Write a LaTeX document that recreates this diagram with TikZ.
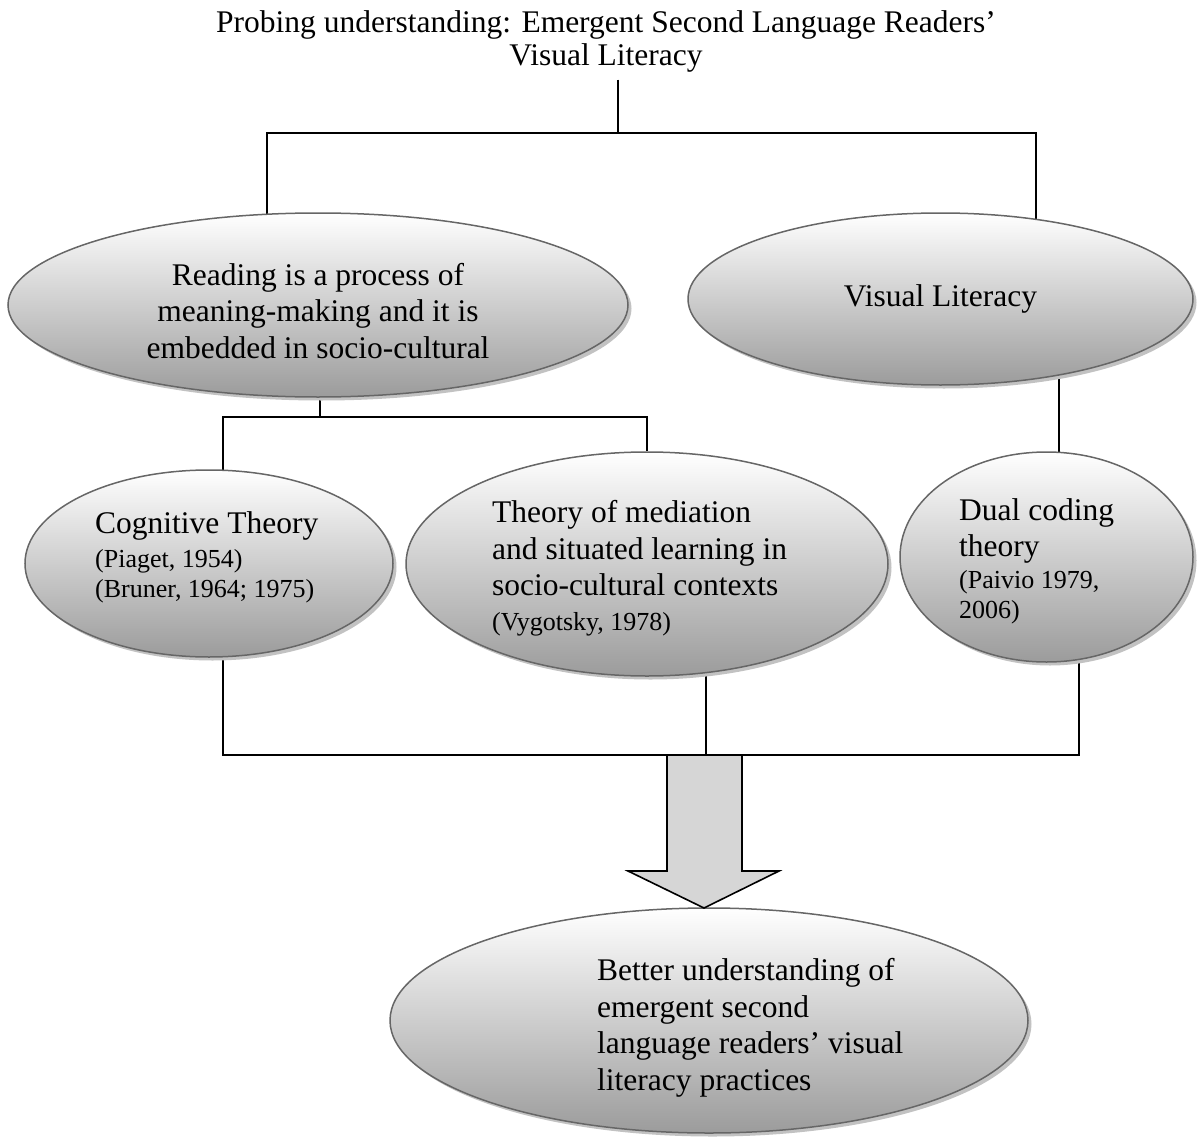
\documentclass[tikz,border=0pt]{standalone}
\usepackage{fontspec}
\setmainfont{Liberation Serif}
\usetikzlibrary{shapes.geometric, shadows, backgrounds, positioning}
\newcommand{\bodyfont}{\fontsize{31.5}{36.5}\selectfont}
\newcommand{\citefont}{\fontsize{26}{29.5}\selectfont}
\tikzset{
  bubble/.style={ellipse, draw=black!60, line width=1.5pt, top color=white, bottom color=black!39, drop shadow={shadow xshift=3.5pt, shadow yshift=-3.5pt, fill=black!24, opacity=1}, inner sep=0pt, font=\bodyfont, align=center},
  bubbletext/.style={anchor=north west, inner sep=0pt, align=left},
  link/.style={draw=black, line width=1.6pt},
  bigarrow/.style={draw=black, line width=1.6pt, fill=black!16, line join=miter},
}

\begin{document}
\begin{tikzpicture}[x=1pt, y=1pt]
\useasboundingbox (0,0) rectangle (1197,-1145);
\node[font=\fontsize{31.5}{33}\selectfont, align=center, anchor=north, inner xsep=0pt, inner ysep=7pt] (title) at (606,-3.5) {Probing understanding: Emergent Second Language Readers’\\Visual Literacy};

% ellipses
\node[bubble, minimum width=620, minimum height=184] (reading) at (318,-305) {};
\node[bubble, minimum width=505, minimum height=172] (vislit) at (940.5,-299) {Visual Literacy};
\node[bubble, minimum width=368, minimum height=187] (cog) at (209,-563.5) {};
\node[bubble, minimum width=482, minimum height=224] (med) at (647,-564) {};
\node[bubble, minimum width=293, minimum height=210] (dual) at (1046.5,-557) {};
\node[bubble, minimum width=638, minimum height=225] (better) at (709,-1020.5) {};

% texts
\node[font=\bodyfont, align=center, inner sep=0pt] (readingtext) at ([yshift=-6pt]reading.center) {Reading is a process of\\meaning-making and it is\\embedded in socio-cultural};
\node[bubbletext, font=\citefont] (cogtext) at (95,-511.5) {{\bodyfont Cognitive Theory}\\[4.5pt](Piaget, 1954)\\(Bruner, 1964; 1975)};
\node[bubbletext, font=\bodyfont] (medtext) at (492,-500.5) {Theory of mediation\\and situated learning in\\socio-cultural contexts\\[-1.5pt]{\citefont (Vygotsky, 1978)}};
\node[bubbletext, font=\citefont] (dualtext) at (959,-498.5) {{\bodyfont Dual coding}\\[6.5pt]{\bodyfont theory}\\[2.5pt](Paivio 1979,\\2006)};
\node[bubbletext, font=\bodyfont] (bettertext) at (597,-958.5) {Better understanding of\\emergent second\\language readers’ visual\\literacy practices};

% connectors
\begin{scope}[on background layer]
\coordinate (rootbus) at (618,-133);
\coordinate (midbus) at (320,-417);
\coordinate (lowbus) at (706,-755);
\draw[link] (title.south -| rootbus) -- (rootbus);
\draw[link] (reading.center -| 267,0) |- (rootbus) -| (vislit.center -| 1036,0);
\draw[link] (reading.center -| midbus) -- (midbus);
\draw[link] (cog.center -| 223,0) |- (midbus) -| (med);
\draw[link] (vislit.center -| 1059,0) -- (dual.center -| 1059,0);
\draw[link] (cog.center -| 223,0) |- (lowbus) -| (dual.center -| 1079,0);
\draw[link] (med.center -| lowbus) -- (lowbus);
\end{scope}

\draw[bigarrow] (667,-755) -- (667,-871) -- (628,-871) -- (704,-908) -- (779,-871) -- (742,-871) -- (742,-755) -- cycle;
\end{tikzpicture}
\end{document}
